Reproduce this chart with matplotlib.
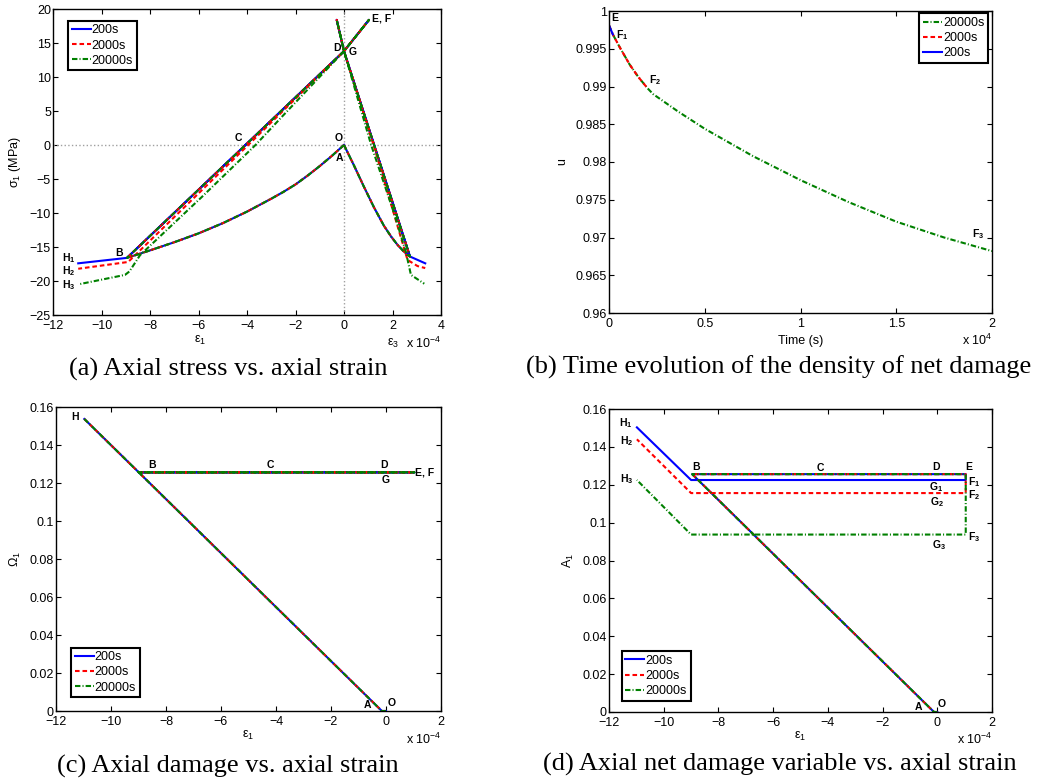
import matplotlib
matplotlib.use("Agg")
import matplotlib.pyplot as plt
from matplotlib.ticker import FuncFormatter, MultipleLocator

plt.rcParams['font.family'] = ['Liberation Sans', 'DejaVu Sans']
plt.rcParams['mathtext.fontset'] = 'custom'
plt.rcParams['mathtext.rm'] = 'Liberation Sans'
plt.rcParams['mathtext.it'] = 'Liberation Sans:italic'
plt.rcParams['mathtext.bf'] = 'Liberation Sans:bold'
plt.rcParams['font.size'] = 9
plt.rcParams['xtick.direction'] = 'in'
plt.rcParams['ytick.direction'] = 'in'
plt.rcParams['xtick.top'] = True
plt.rcParams['ytick.right'] = True
plt.rcParams['xtick.major.size'] = 3.5
plt.rcParams['ytick.major.size'] = 3.5
plt.rcParams['ytick.major.pad'] = 1.5
plt.rcParams['xtick.major.pad'] = 3.5

# hold durations
series = ['200s', '2000s', '20000s']
hold_time = {'200s': 200, '2000s': 2000, '20000s': 20000}

# (a) stress-strain, strain in 1e-4, stress in MPa
load_eps1 = [0, -0.5, -1, -1.5, -2, -2.5, -3, -4, -5, -6, -7, -8, -8.95]
load_sig1 = [0, -1.6, -3.1, -4.5, -5.8, -6.9, -7.9, -9.8, -11.5, -13.0, -14.3, -15.5, -16.6]
load_eps3 = [0, 0.41, 0.83, 1.24, 1.65, 1.95, 2.21, 2.45, 2.72]
load_sig3 = [0, -3.0, -6.2, -9.2, -11.9, -13.5, -14.7, -15.6, -16.4]
up_eps1 = [-8.95, 0, 1.03]
up_sig1 = [-16.6, 13.8, 18.4]
up_eps3 = [2.72, 0, -0.3]
up_sig3 = [-16.4, 13.8, 18.4]
back_eps1 = {'200s': [0, -8.95, -10.96],
             '2000s': [0, -3.95, -8.9, -10.96],
             '20000s': [0, -2.62, -3.65, -5.85, -8.41, -8.85, -9.03, -10.96]}
back_sig1 = {'200s': [13.8, -16.6, -17.4],
             '2000s': [13.8, 0, -17.2, -18.2],
             '20000s': [13.8, 3.93, 0, -7.6, -16.2, -18.6, -19.1, -20.5]}
back_eps3 = {'200s': [0, 2.72, 3.35],
             '2000s': [0, 1.22, 2.62, 3.03, 3.35],
             '20000s': [0, 1.12, 2.07, 2.55, 2.76, 3.31]}
back_sig3 = {'200s': [13.8, -16.4, -17.4],
             '2000s': [13.8, 0, -16.9, -17.8, -18.1],
             '20000s': [13.8, 0, -10.1, -15.7, -19.1, -20.4]}

# (b) density of net damage
time_s = [0, 100, 200, 560, 1080, 1520, 2000, 2300, 3600, 5000, 7500,
          10000, 12500, 15000, 17500, 20000]
u_vals = [0.9981, 0.9975, 0.9969, 0.9952, 0.9929, 0.9913, 0.9898, 0.9890,
          0.9867, 0.9844, 0.9808, 0.9776, 0.9747, 0.9721, 0.9700, 0.9682]

# (c) axial damage
omega_eps = [0, -0.15, -8.99, 1.03, -8.99, -10.97]
omega_val = [0, 0, 0.1256, 0.1256, 0.1256, 0.1537]

# (d) net damage variable
net_eps_load = [0, -0.12, -8.96, 1.04]
net_a_load = [0, 0, 0.1256, 0.1256]
net_eps_back = [1.04, 1.04, -9.0, -10.98]
net_a_F = {'200s': 0.1225, '2000s': 0.1156, '20000s': 0.0937}
net_a_H = {'200s': 0.1503, '2000s': 0.1440, '20000s': 0.1225}

colors = {'200s': '#0000ff', '2000s': '#ff0000', '20000s': '#008000'}
dashes = {'200s': (None, None), '2000s': (2.2, 1.4), '20000s': (2.6, 1.0, 0.5, 1.0)}
lw = 1.5


def line(ax, x, y, s, label=None):
    st = '-' if s == '200s' else ('--' if s == '2000s' else '-.')
    l, = ax.plot(x, y, color=colors[s], ls=st, lw=lw, label=label)
    if s != '200s':
        l.set_dashes(dashes[s])
    return l


def minus(v, pos):
    return ('%g' % v).replace('-', '\u2212')


def setup(ax, xlim, ylim, xstep, ystep):
    ax.set_xlim(*xlim)
    ax.set_ylim(*ylim)
    ax.xaxis.set_major_locator(MultipleLocator(xstep))
    ax.yaxis.set_major_locator(MultipleLocator(ystep))
    ax.xaxis.set_major_formatter(FuncFormatter(minus))
    ax.yaxis.set_major_formatter(FuncFormatter(minus))
    for sp in ax.spines.values():
        sp.set_linewidth(1.0)


def legend(ax, loc, anchor):
    lg = ax.legend(loc=loc, bbox_to_anchor=anchor, borderaxespad=0, fancybox=False,
                   edgecolor='black', framealpha=1, fontsize=9, handlelength=1.5,
                   handletextpad=0.1, labelspacing=0.25, borderpad=0.3)
    lg.get_frame().set_linewidth(1.5)


def tag(ax, x, y, s, ha='center'):
    ax.text(x, y, s, fontsize=7.5, fontweight='bold', ha=ha, va='center')


fig = plt.figure(figsize=(10.41, 7.83), dpi=100)
W, H = 1041.0, 783.0


def axes_px(l, t, r, b):
    return fig.add_axes([l / W, 1 - b / H, (r - l) / W, (b - t) / H])


# (a)
ax = axes_px(53, 9, 441, 315)
ax.axhline(0, color='#a0a0a0', ls=':', lw=1)
ax.axvline(0, color='#a0a0a0', ls=':', lw=1)
for s in series:
    line(ax, load_eps1 + up_eps1[1:] + back_eps1[s], load_sig1 + up_sig1[1:] + back_sig1[s], s, s)
    line(ax, load_eps3 + up_eps3[1:] + back_eps3[s], load_sig3 + up_sig3[1:] + back_sig3[s], s)
setup(ax, (-12, 4), (-25, 20), 2, 5)
ax.set_ylabel('σ$_1$ (MPa)', labelpad=5)
ax.text((200 - 53) / 388, -25 / 306, 'ε$_1$', transform=ax.transAxes, ha='center', va='center')
ax.text((393 - 53) / 388, -28 / 306, 'ε$_3$', transform=ax.transAxes, ha='center', va='center')
ax.text(1.0, -28 / 306, 'x 10$^{-4}$', transform=ax.transAxes, ha='right', va='center')
legend(ax, 'upper left', (0.0387, 0.962))
tag(ax, 1.17, 18.6, 'E, F', 'left')
tag(ax, -0.3, 14.2, 'D')
tag(ax, 0.37, 13.7, 'G')
tag(ax, -4.34, 1.08, 'C')
tag(ax, -0.23, 1.08, 'O')
tag(ax, -0.2, -1.96, 'A')
tag(ax, -9.27, -15.86, 'B')
tag(ax, -11.35, -16.6, r'$\mathbf{H_1}$')
tag(ax, -11.35, -18.5, r'$\mathbf{H_2}$')
tag(ax, -11.35, -20.6, r'$\mathbf{H_3}$')

# (b)
ax = axes_px(609, 11, 992, 313)
for s in ['20000s', '2000s', '200s']:
    n = sum(1 for t in time_s if t <= hold_time[s])
    line(ax, time_s[:n], u_vals[:n], s, s)
setup(ax, (0, 20000), (0.96, 1.0), 5000, 0.005)
ax.xaxis.set_major_formatter(FuncFormatter(lambda v, p: '%g' % (v / 1e4)))
ax.set_xlabel('Time (s)', labelpad=4)
ax.set_ylabel('u', labelpad=5)
ax.text(1.0, -27 / 302, 'x 10$^{4}$', transform=ax.transAxes, ha='right', va='center')
legend(ax, 'upper right', (0.990, 0.992))
tag(ax, 130, 0.9991, 'E', 'left')
tag(ax, 390, 0.99678, r'$\mathbf{F_1}$', 'left')
tag(ax, 2100, 0.99091, r'$\mathbf{F_2}$', 'left')
tag(ax, 18950, 0.97051, r'$\mathbf{F_3}$', 'left')

# (c)
ax = axes_px(56, 407, 441, 711)
for s in series:
    line(ax, omega_eps, omega_val, s, s)
setup(ax, (-12, 2), (0, 0.16), 2, 0.02)
ax.set_xlabel('ε$_1$', labelpad=1)
ax.set_ylabel('Ω$_1$', labelpad=5)
ax.text(1.0, -28 / 304, 'x 10$^{-4}$', transform=ax.transAxes, ha='right', va='center')
legend(ax, 'lower left', (0.039, 0.045))
tag(ax, -11.3, 0.1547, 'H')
tag(ax, -8.5, 0.1295, 'B')
tag(ax, -4.22, 0.1295, 'C')
tag(ax, -0.06, 0.1295, 'D')
tag(ax, -0.02, 0.1214, 'G')
tag(ax, 1.4, 0.1254, 'E, F')
tag(ax, -0.69, 0.0032, 'A')
tag(ax, 0.21, 0.0040, 'O')

# (d)
ax = axes_px(609, 409, 992, 712)
for s in series:
    a_back = [net_a_load[-1], net_a_F[s], net_a_F[s], net_a_H[s]]
    line(ax, net_eps_load + net_eps_back, net_a_load + a_back, s, s)
setup(ax, (-12, 2), (0, 0.16), 2, 0.02)
ax.set_xlabel('ε$_1$', labelpad=1)
ax.set_ylabel('A$_1$', labelpad=5)
ax.text(1.0, -27 / 303, 'x 10$^{-4}$', transform=ax.transAxes, ha='right', va='center')
legend(ax, 'lower left', (0.033, 0.037))
tag(ax, -11.37, 0.1524, r'$\mathbf{H_1}$')
tag(ax, -11.37, 0.1432, r'$\mathbf{H_2}$')
tag(ax, -11.37, 0.1228, r'$\mathbf{H_3}$')
tag(ax, -8.81, 0.1295, 'B')
tag(ax, -4.27, 0.1290, 'C')
tag(ax, -0.04, 0.1295, 'D')
tag(ax, 1.16, 0.1295, 'E')
tag(ax, 1.11, 0.1216, r'$\mathbf{F_1}$', 'left')
tag(ax, 1.11, 0.1145, r'$\mathbf{F_2}$', 'left')
tag(ax, 1.11, 0.0925, r'$\mathbf{F_3}$', 'left')
tag(ax, -0.03, 0.1189, r'$\mathbf{G_1}$')
tag(ax, -0.03, 0.1110, r'$\mathbf{G_2}$')
tag(ax, 0.06, 0.0881, r'$\mathbf{G_3}$')
tag(ax, -0.67, 0.0026, 'A')
tag(ax, 0.16, 0.0041, 'O')

# captions
cap = dict(family='Liberation Serif', fontsize=19, ha='center', va='center')
fig.text(228 / W, 1 - 369 / H, '(a) Axial stress vs. axial strain', **cap)
fig.text(779 / W, 1 - 367.5 / H, '(b) Time evolution of the density of net damage', **cap)
fig.text(228 / W, 1 - 766 / H, '(c) Axial damage vs. axial strain', **cap)
fig.text(780 / W, 1 - 764 / H, '(d) Axial net damage variable vs. axial strain', **cap)

fig.savefig('out.png', dpi=100)
